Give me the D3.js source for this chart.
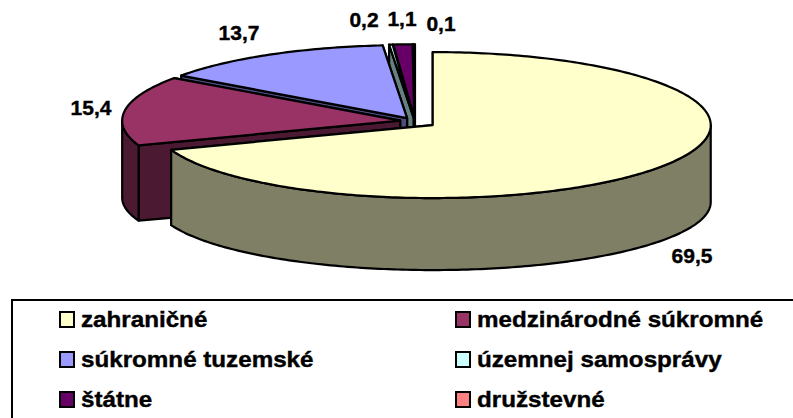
<!DOCTYPE html>
<html>
<head>
<meta charset="utf-8">
<script src="https://cdn.jsdelivr.net/npm/d3@7"></script>
<style>
html, body { margin: 0; padding: 0; background: #fff; overflow: hidden; }
text { font-family: "Liberation Sans", Arial, sans-serif; font-weight: bold; fill: #000; stroke: #000; stroke-width: 0.4px; }
</style>
</head>
<body>
<div id="chart-area"></div>
<script>
var categories = ["zahraničné", "medzinárodné súkromné", "súkromné tuzemské", "územnej samosprávy", "štátne", "družstevné"];
var values = [69.5, 15.4, 13.7, 0.2, 1.1, 0.1];
var topColors = ["#FFFFCC", "#993366", "#9999FF", "#CCFFFF", "#660066", "#FF8080"];
var sideColors = ["#7F7F66", "#4C1933", "#4C4C7F", "#667F7F", "#330033", "#7F4040"];

var width = 793;
var height = 418;

var pieCenter = {x: 418, y: 121.5};
var rx = 278, ry = 73;
var depth = 77, ryBottom = 68;   // bottom ellipse is a bit flatter, perspective
var explodeX = 18, explodeY = 6.2;

// the back slices sit a little off the plain explode direction
var nudgeX = [0, 0, -2, -3, -3, -3];
var nudgeY = [0, 0, 2, 2, 2, 2];

// hand placed, same as the original chart
var labelPos = [[692, 263], [91, 115], [239, 40], [364, 27], [402, 26], [441, 31]];

var svg = d3.select("#chart-area")
    .append("svg")
        .attr("width", width)
        .attr("height", height)
        .style("display", "block");

var slices = d3.pie().sort(null).value((d) => { return d; })(values);

slices.forEach((s, i) => {
    var mid = (s.startAngle + s.endAngle) / 2;
    s.index = i;
    s.cx = pieCenter.x + explodeX * Math.sin(mid) + nudgeX[i];
    s.cy = pieCenter.y - explodeY * Math.cos(mid) + nudgeY[i];
});

function px(s, a) { return s.cx + rx * Math.sin(a); }
function py(s, a) { return s.cy - ry * Math.cos(a); }
function pyBottom(s, a) { return s.cy + depth - ryBottom * Math.cos(a); }

function angleSteps(a0, a1) {
    var n = Math.max(2, Math.ceil(Math.abs(a1 - a0) * 60));
    return d3.range(n + 1).map((k) => { return a0 + (a1 - a0) * k / n; });
}

var line = d3.line();

function face(g, points, fill) {
    g.append("path")
        .attr("d", line(points) + "Z")
        .attr("fill", fill)
        .attr("stroke", "#000")
        .attr("stroke-width", 2.2)
        .attr("stroke-linejoin", "round");
}

function cutWall(g, s, a, fill) {
    face(g, [
        [s.cx, s.cy],
        [px(s, a), py(s, a)],
        [px(s, a), pyBottom(s, a)],
        [s.cx, s.cy + depth]
    ], fill);
}

// back slices first so the front ones cover them
var order = [5, 4, 3, 2, 1, 0];

order.forEach((i) => {
    var s = slices[i];
    var g = svg.append("g").attr("class", "slice");

    cutWall(g, s, s.endAngle, sideColors[i]);
    cutWall(g, s, s.startAngle, sideColors[i]);

    var from = Math.max(s.startAngle, Math.PI / 2);
    var to = Math.min(s.endAngle, Math.PI * 1.5);
    if (to > from) {
        var steps = angleSteps(from, to);
        var upper = steps.map((a) => { return [px(s, a), py(s, a)]; });
        var lower = steps.map((a) => { return [px(s, a), pyBottom(s, a)]; }).reverse();
        face(g, upper.concat(lower), sideColors[i]);
    }

    var rim = angleSteps(s.startAngle, s.endAngle).map((a) => { return [px(s, a), py(s, a)]; });
    face(g, [[s.cx, s.cy]].concat(rim), topColors[i]);
});

svg.selectAll(".value-label")
    .data(values)
    .enter().append("text")
        .attr("class", "value-label")
        .attr("x", (d, i) => { return labelPos[i][0]; })
        .attr("y", (d, i) => { return labelPos[i][1]; })
        .attr("text-anchor", "middle")
        .attr("font-size", "21px")
        .text((d) => { return String(d).replace(".", ","); });

// legend frame only shows its left and top side in the picture
svg.append("path")
    .attr("d", "M12,418V300H793")
    .attr("fill", "none")
    .attr("stroke", "#000")
    .attr("stroke-width", 2);

var legend = svg.selectAll(".legend-item")
    .data(categories)
    .enter().append("g")
        .attr("class", "legend-item")
        .attr("transform", (d, i) => {
            return "translate(" + (i % 2 ? 455 : 59) + ", " + (327 + 40 * Math.floor(i / 2)) + ")";
        });

legend.append("rect")
    .attr("x", 1)
    .attr("y", -15)
    .attr("width", 14)
    .attr("height", 15)
    .attr("fill", (d, i) => { return topColors[i]; })
    .attr("stroke", "#000")
    .attr("stroke-width", 2);

// text in the original is drawn wider than the font is
legend.append("text")
    .attr("transform", "translate(22, 0) scale(1.1, 1)")
    .attr("font-size", "22px")
    .text((d) => { return d; });
</script>
</body>
</html>
